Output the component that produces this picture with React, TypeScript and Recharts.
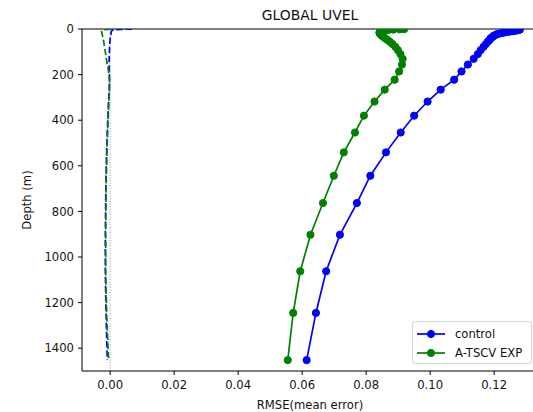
import { LineChart, Line, XAxis, YAxis, ReferenceLine } from 'recharts';

// model depth levels (m)
const depths = [
  0.494, 1.541, 2.646, 3.819, 5.078, 6.441, 7.93, 9.573, 11.405, 13.467, 15.81, 18.496, 21.599,
  25.211, 29.445, 34.434, 40.344, 47.374, 55.764, 65.807, 77.854, 92.326, 109.729, 130.666,
  155.851, 186.126, 222.475, 266.04, 318.127, 380.213, 453.938, 541.089, 643.567, 763.333,
  902.339, 1062.44, 1245.291, 1452.251,
];

const controlRmse = [
  0.1277, 0.128, 0.128, 0.1277, 0.1274, 0.1271, 0.1264, 0.1258, 0.1249, 0.1239, 0.123, 0.1221,
  0.1211, 0.1205, 0.1199, 0.1196, 0.1189, 0.1186, 0.118, 0.1174, 0.1167, 0.1158, 0.1149, 0.1136,
  0.1118, 0.1098, 0.1075, 0.1033, 0.0992, 0.095, 0.0908, 0.0862, 0.0813, 0.0771, 0.0718, 0.0675,
  0.0643, 0.0614,
];

const expRmse = [
  0.0919, 0.0905, 0.0885, 0.087, 0.086, 0.0853, 0.0848, 0.0845, 0.0843, 0.0842, 0.0842, 0.0842,
  0.0844, 0.0846, 0.0849, 0.0854, 0.0859, 0.0866, 0.0874, 0.0882, 0.0891, 0.0899, 0.0907, 0.0914,
  0.0912, 0.0903, 0.0889, 0.0858, 0.0826, 0.0793, 0.0765, 0.073, 0.0699, 0.0665, 0.0626, 0.0594,
  0.0572, 0.0555,
];

const controlMean = [
  0.0068, 0.0035, 0.0018, 0.0011, 0.0008, 0.0006, 0.0005, 0.0004, 0.0004, 0.0003, 0.0003, 0.0003,
  0.0002, 0.0002, 0.0001, 0.0001, 0.0, 0.0, -0.0001, -0.0001, -0.0002, -0.0002, -0.0003, -0.0003,
  -0.0003, -0.0003, -0.0002, -0.0003, -0.0005, -0.0007, -0.0009, -0.0011, -0.0013, -0.0014,
  -0.0015, -0.0015, -0.0013, -0.0009,
];

const expMean = [
  0.0002, -0.0008, -0.0015, -0.0019, -0.0022, -0.0024, -0.0025, -0.0026, -0.0027, -0.0027,
  -0.0026, -0.0026, -0.0025, -0.0025, -0.0024, -0.0023, -0.0022, -0.0021, -0.002, -0.0019,
  -0.0018, -0.0016, -0.0014, -0.0012, -0.0009, -0.0005, -0.0002, -0.0002, -0.0004, -0.0006,
  -0.0008, -0.001, -0.0012, -0.0013, -0.0014, -0.0014, -0.0011, -0.0005,
];

const xTicks = [0, 0.02, 0.04, 0.06, 0.08, 0.1, 0.12];
const yTicks = [0, 200, 400, 600, 800, 1000, 1200, 1400];

const data = depths.map((depth, i) => ({
  depth,
  controlRmse: controlRmse[i],
  expRmse: expRmse[i],
  controlMean: controlMean[i],
  expMean: expMean[i],
}));

const BLUE = '#0000ff';
const GREEN = '#008000';
const FONT = '"DejaVu Sans", sans-serif';

const legendItems = [
  { label: 'control', color: BLUE },
  { label: 'A-TSCV EXP', color: GREEN },
];

function ChartLegend() {
  return (
    <div
      style={{
        position: 'absolute',
        left: 412,
        top: 321,
        width: 120,
        height: 43,
        boxSizing: 'border-box',
        border: '1px solid #d6d6d6',
        borderRadius: 3,
        background: 'rgba(255,255,255,0.8)',
        paddingTop: 2,
        fontSize: 11.6,
        color: '#111',
      }}
    >
      {legendItems.map((item) => (
        <div key={item.label} style={{ display: 'flex', alignItems: 'center', height: 19 }}>
          <svg width={38} height={12} style={{ marginLeft: 4 }}>
            <line x1={0} y1={6} x2={28} y2={6} stroke={item.color} strokeWidth={1.7} />
            <circle cx={14} cy={6} r={3.6} fill={item.color} stroke={item.color} />
          </svg>
          <span>{item.label}</span>
        </div>
      ))}
    </div>
  );
}

export default function App() {
  return (
    <div
      style={{
        position: 'absolute',
        left: 0,
        top: 0,
        width: 533,
        height: 412,
        overflow: 'hidden',
        background: '#fff',
        fontFamily: FONT,
      }}
    >
      <div
        style={{
          position: 'absolute',
          left: 0,
          width: 620,
          top: 7,
          textAlign: 'center',
          fontSize: 13.9,
          color: '#111',
        }}
      >
        GLOBAL UVEL
      </div>
      <LineChart
        width={545}
        height={412}
        data={data}
        layout="vertical"
        margin={{ top: 29, right: 7, bottom: 0, left: 22 }}
        style={{ position: 'absolute', left: 0, top: 0 }}
      >
        <XAxis
          type="number"
          domain={[-0.0088, 0.1337]}
          allowDataOverflow
          ticks={xTicks}
          tickFormatter={(v: number) => v.toFixed(2)}
          height={41}
          tickSize={4}
          tickMargin={6}
          stroke="#000"
          tick={{ fill: '#111', fontSize: 11.6, fontFamily: FONT }}
          label={{ value: 'RMSE(mean error)', position: 'insideBottom', offset: 3, fill: '#111', fontSize: 11.6, fontFamily: FONT }}
        />
        <YAxis
          type="number"
          dataKey="depth"
          domain={[0, 1500]}
          allowDataOverflow
          ticks={yTicks}
          width={60}
          tickSize={4}
          tickMargin={4}
          stroke="#000"
          tick={{ fill: '#111', fontSize: 11.6, fontFamily: FONT }}
          label={{
            value: 'Depth (m)',
            angle: -90,
            position: 'insideLeft',
            offset: 5,
            fill: '#111',
            fontSize: 11.6,
            fontFamily: FONT,
            style: { textAnchor: 'middle' },
          }}
        />
        <ReferenceLine y={0} stroke="#000" strokeWidth={1} />
        <ReferenceLine x={0} stroke="#808080" strokeWidth={0.8} strokeDasharray="1 1.6" />
        <Line
          dataKey="controlMean"
          stroke={BLUE}
          strokeWidth={1.7}
          strokeDasharray="6.4 2.8"
          dot={false}
          isAnimationActive={false}
        />
        <Line
          dataKey="expMean"
          stroke={GREEN}
          strokeWidth={1.7}
          strokeDasharray="6.4 2.8"
          dot={false}
          isAnimationActive={false}
        />
        <Line
          dataKey="controlRmse"
          stroke={BLUE}
          strokeWidth={1.7}
          dot={{ r: 3.6, fill: BLUE, stroke: BLUE, strokeWidth: 1 }}
          isAnimationActive={false}
        />
        <Line
          dataKey="expRmse"
          stroke={GREEN}
          strokeWidth={1.7}
          dot={{ r: 3.6, fill: GREEN, stroke: GREEN, strokeWidth: 1 }}
          isAnimationActive={false}
        />
      </LineChart>
      <ChartLegend />
    </div>
  );
}
